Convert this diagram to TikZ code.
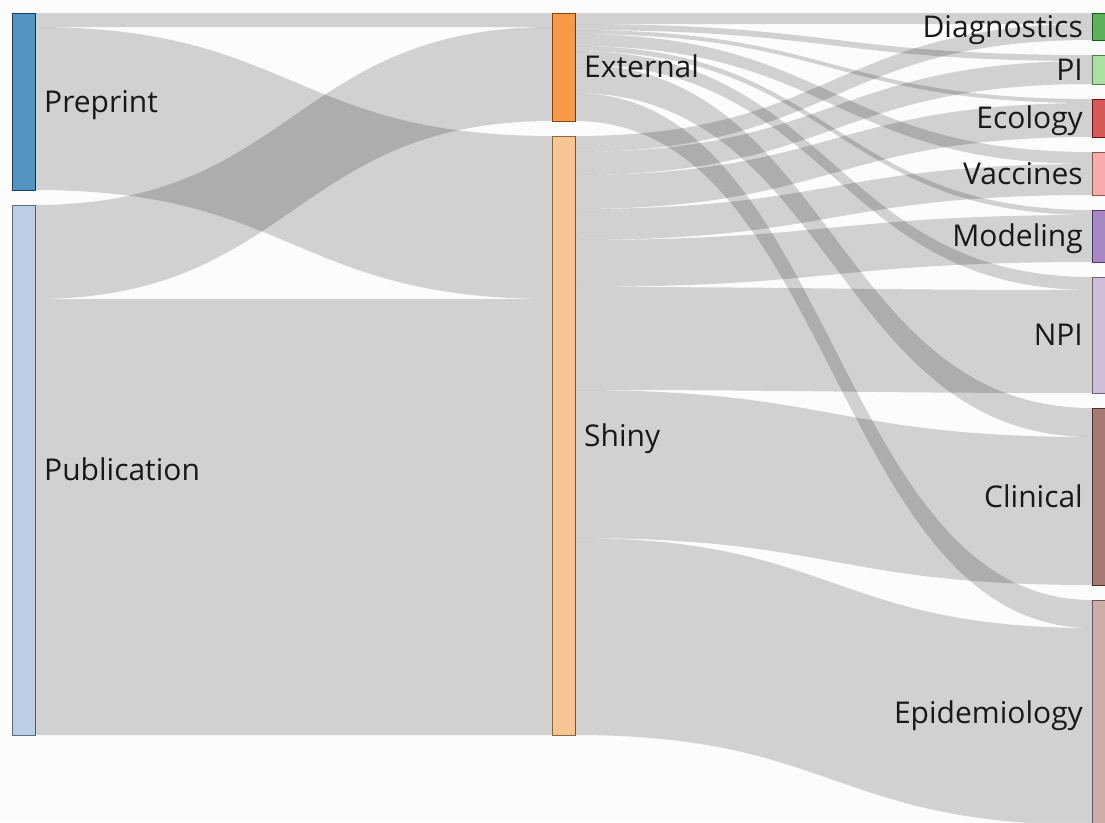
\documentclass[tikz,border=0pt]{standalone}
\usepackage{fontspec}
\setmainfont{Open Sans}
\usetikzlibrary{calc, positioning}

\definecolor{cPre}{HTML}{1F77B4}
\definecolor{cPub}{HTML}{AEC7E8}
\definecolor{cExt}{HTML}{FF7F0E}
\definecolor{cShi}{HTML}{FFBB78}
\definecolor{cDia}{HTML}{2CA02C}
\definecolor{cPI}{HTML}{98DF8A}
\definecolor{cEco}{HTML}{D62728}
\definecolor{cVac}{HTML}{FF9896}
\definecolor{cMod}{HTML}{9467BD}
\definecolor{cNPI}{HTML}{C5B0D5}
\definecolor{cCli}{HTML}{8C564B}
\definecolor{cEpi}{HTML}{C49C94}

\tikzset{
  bar/.style={draw=#1!55!black, line width=0.7pt, fill=#1!76!white!97!black, minimum width=23pt,
    inner sep=0pt, outer sep=0pt, anchor=north west},
  link/.style={fill=black, fill opacity=0.17},
  lbl/.style={inner sep=0pt, text=black!90, text height=21.6pt, text depth=0pt,
    font=\fontsize{30}{36}\selectfont},
}

% band from #1 (offset #2) to #3 (offset #4), width #5
\newcommand{\flow}[5]{%
  \path ($(#1.north east)+(0,#2)$) coordinate (fa) ($(#3.north west)+(0,#4)$) coordinate (fb);
  \fill[link] (fa) .. controls +(258.5,0) and +(-258.5,0) .. (fb) -- ++(0,#5)
    .. controls +(-258.5,0) and +(258.5,0) .. ($(fa)+(0,#5)$) -- cycle;}

\begin{document}
\begin{tikzpicture}[x=1pt, y=-1pt]
    \useasboundingbox (0,0) rectangle (1105,822);
    \fill[black!1] (0,0) rectangle (1105,822);
    \clip (0,0) rectangle (1105,822);

    % Left: type of output
    \node[bar=cPre, minimum height=177pt] (pre) at (12,13) {};
    \node[bar=cPub, minimum height=530pt] (pub) at (12,205) {};

    % Middle: where it lives
    \node[bar=cExt, minimum height=108pt] (ext) at (552,13) {};
    \node[bar=cShi, minimum height=599pt] (shi) at (552,136) {};

    % Right: topics
    \node[bar=cDia, minimum height=27pt] (dia) at (1092,13) {};
    \node[bar=cPI, minimum height=29pt] (pi) at (1092,55) {};
    \node[bar=cEco, minimum height=38pt] (eco) at (1092,99) {};
    \node[bar=cVac, minimum height=43pt] (vac) at (1092,152) {};
    \node[bar=cMod, minimum height=52pt] (mod) at (1092,210) {};
    \node[bar=cNPI, minimum height=116pt] (npi) at (1092,277) {};
    \node[bar=cCli, minimum height=177pt] (cli) at (1092,408) {};
    \node[bar=cEpi, minimum height=225pt] (epi) at (1092,600) {};

    % Flows: left -> middle
    \flow{pre}{0}{ext}{0}{14}
    \flow{pre}{14}{shi}{0}{163}
    \flow{pub}{0}{ext}{14}{94}
    \flow{pub}{94}{shi}{163}{436}

    % Flows: middle -> right
    \foreach \t/\s/\w in {dia/0/11, pi/11/6, eco/17/4, vac/21/12, mod/33/5, npi/38/13, cli/51/29, epi/80/28}
        {\flow{ext}{\s}{\t}{0}{\w}}
    \foreach \t/\s/\o/\w in {dia/0/11/16, pi/16/6/23, eco/39/4/34, vac/73/12/31, mod/104/5/47,
        npi/151/13/103, cli/254/29/148, epi/402/28/197}
        {\flow{shi}{\s}{\t}{\o}{\w}}

    % Labels
    \node[lbl, right=9pt of pre] (pre-l) {Preprint};
    \node[lbl, right=9pt of pub] (pub-l) {Publication};
    \node[lbl, right=9pt of ext] (ext-l) {External};
    \node[lbl, right=9pt of shi] (shi-l) {Shiny};
    \node[lbl, left=9pt of dia] (dia-l) {Diagnostics};
    \node[lbl, left=9pt of pi] (pi-l) {PI};
    \node[lbl, left=9pt of eco] (eco-l) {Ecology};
    \node[lbl, left=9pt of vac] (vac-l) {Vaccines};
    \node[lbl, left=9pt of mod] (mod-l) {Modeling};
    \node[lbl, left=9pt of npi] (npi-l) {NPI};
    \node[lbl, left=9pt of cli] (cli-l) {Clinical};
    \node[lbl, left=9pt of epi] (epi-l) {Epidemiology};
\end{tikzpicture}
\end{document}
